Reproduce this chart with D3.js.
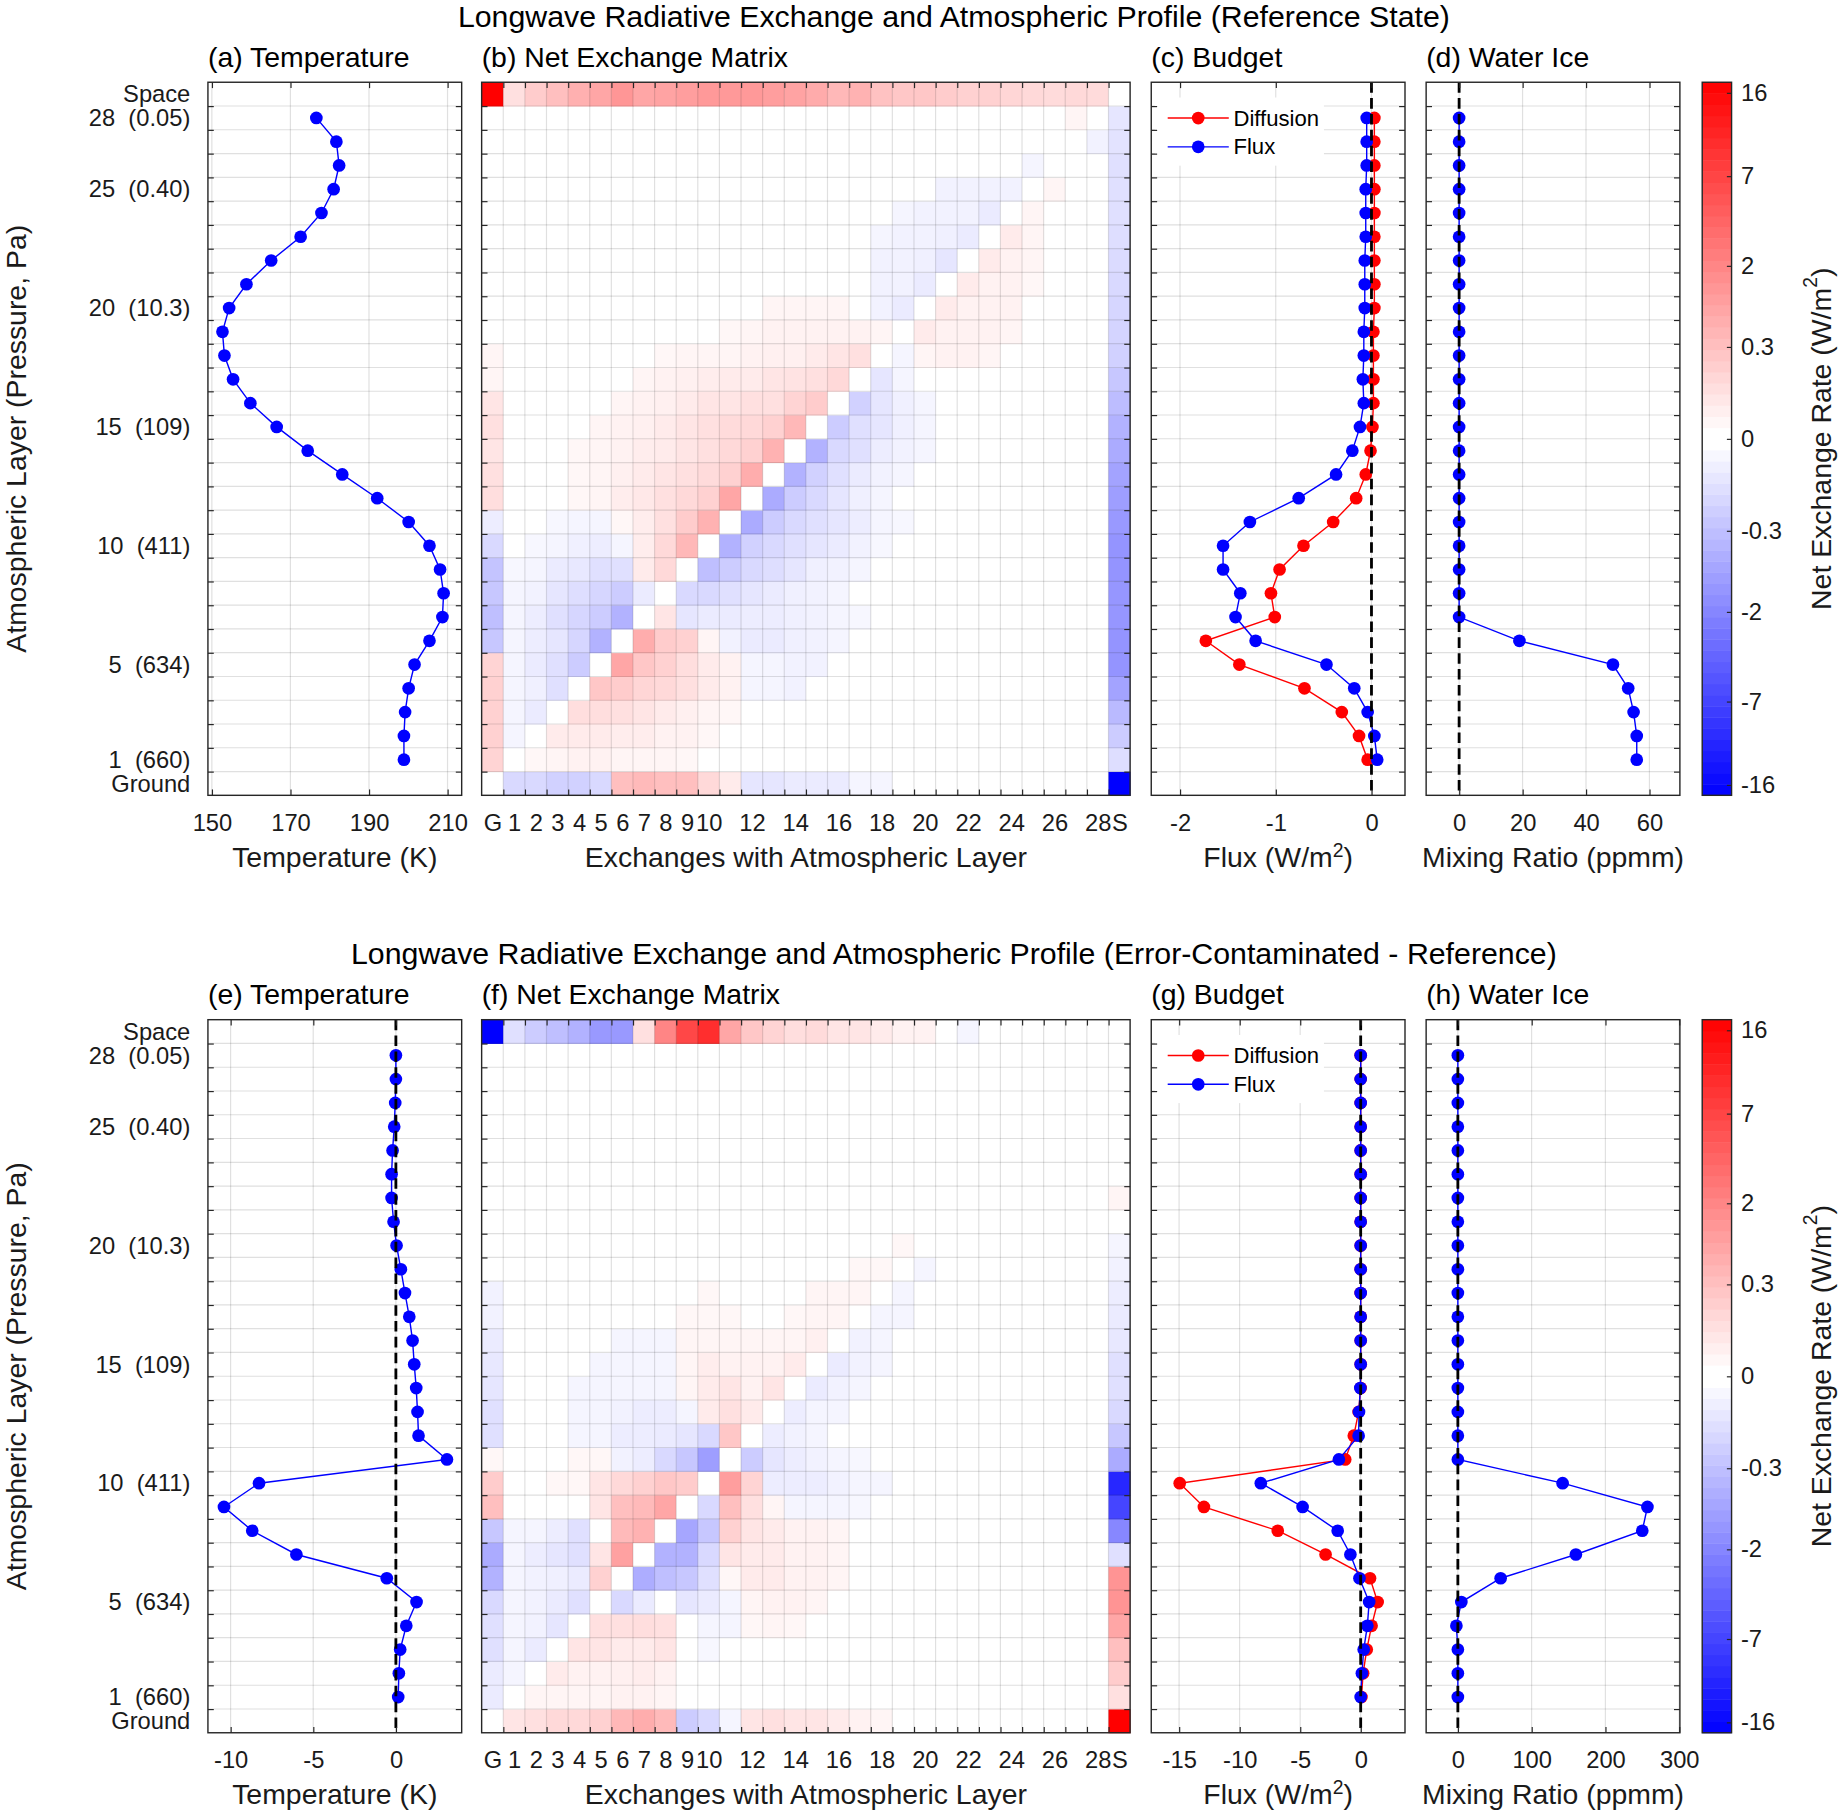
<!doctype html>
<html lang="en">
<head>
	<meta charset="utf-8">
	<title>Longwave Radiative Exchange and Atmospheric Profile</title>
	<style>
html, body {
	margin: 0;
	padding: 0;
	background-color: white;
}
svg {
	display: block;
	font-family: 'Liberation Sans', Arial, Helvetica, sans-serif;
}
.grid line {
	stroke: #262626;
	stroke-opacity: 0.14;
	stroke-width: 1px;
}
.axis line {
	stroke: #262626;
	stroke-width: 1px;
}
.axis text {
	font-size: 20.2px;
	fill: #1a1a1a;
}
.frame {
	fill: none;
	stroke: #262626;
	stroke-width: 1.2px;
}
.series path {
	fill: none;
	stroke-width: 1.2px;
}
.zero {
	stroke: black;
	stroke-width: 2.4px;
	stroke-dasharray: 9 4.5;
}
.title {
	font-size: 24.2px;
	fill: black;
}
.suptitle {
	font-size: 25.8px;
	fill: black;
}
.label {
	font-size: 24.2px;
	fill: #1a1a1a;
}
.legend text {
	font-size: 18.8px;
	fill: black;
}
	</style>
</head>
<body>
	<div id="chart"></div>

	<script src="https://cdnjs.cloudflare.com/ajax/libs/d3/7.8.5/d3.min.js"></script>
	<script>
(function _lwx(d3) {

	'use strict';

	/* DATA */

	// atmospheric layers 1..28 (row 0 = Ground, row 29 = Space)
	var layers = d3.range(1, 29);

	var rowTicks = [29, 28, 25, 20, 15, 10, 5, 1, 0];
	var rowTickLabels = ['Space', '28\u00a0\u00a0(0.05)', '25\u00a0\u00a0(0.40)', '20\u00a0\u00a0(10.3)',
		'15\u00a0\u00a0(109)', '10\u00a0\u00a0(411)', '5\u00a0\u00a0(634)', '1\u00a0\u00a0(660)', 'Ground'];

	var colTicks = [0, 1, 2, 3, 4, 5, 6, 7, 8, 9, 10, 12, 14, 16, 18, 20, 22, 24, 26, 28, 29];
	var colTickLabels = ['G', '1', '2', '3', '4', '5', '6', '7', '8', '9', '10',
		'12', '14', '16', '18', '20', '22', '24', '26', '28', 'S'];

	var cbTicks = [16, 7, 2, 0.3, 0, -0.3, -2, -7, -16];
	var cbTickLabels = ['16', '7', '2', '0.3', '0', '-0.3', '-2', '-7', '-16'];
	var CB_MAX = 17.5;

	// reference state, layers 1..28
	var tempRef = [198.9, 198.9, 199.2, 200.1, 201.6, 205.4, 208.7, 209.0, 208.1, 205.4,
		200.1, 192.1, 183.2, 174.4, 166.5, 159.8, 155.4, 153.2, 152.7, 154.4,
		158.8, 165.1, 172.6, 177.9, 181.0, 182.4, 181.7, 176.6];
	var diffRef = [-0.04, -0.13, -0.31, -0.70, -1.38, -1.73, -1.01, -1.05, -0.96, -0.71,
		-0.40, -0.16, -0.06, -0.01, 0.01, 0.02, 0.02, 0.02, 0.02, 0.03,
		0.03, 0.03, 0.03, 0.03, 0.03, 0.03, 0.03, 0.03];
	var fluxRef = [0.06, 0.03, -0.04, -0.18, -0.47, -1.21, -1.42, -1.37, -1.55, -1.55,
		-1.27, -0.76, -0.37, -0.20, -0.12, -0.08, -0.09, -0.08, -0.08, -0.07,
		-0.07, -0.07, -0.06, -0.06, -0.06, -0.05, -0.05, -0.05];
	var iceRef = [56, 56, 55, 53.3, 48.5, 19, 0, 0, 0, 0,
		0, 0, 0, 0, 0, 0, 0, 0, 0, 0,
		0, 0, 0, 0, 0, 0, 0, 0];

	// error-contaminated minus reference, layers 1..28
	var tempErr = [0.14, 0.18, 0.26, 0.63, 1.25, -0.55, -6.02, -8.69, -10.4, -8.28,
		3.09, 1.37, 1.31, 1.23, 1.11, 1.01, 0.81, 0.55, 0.30, 0.04,
		-0.14, -0.26, -0.26, -0.20, -0.10, -0.04, 0, 0];
	var diffErr = [0.06, 0.2, 0.5, 0.9, 1.4, 0.77, -2.9, -6.85, -12.95, -14.95,
		-1.28, -0.57, -0.17, 0, 0, 0, 0, 0, 0, 0,
		0, 0, 0, 0, 0, 0, 0, 0];
	var fluxErr = [0, 0.1, 0.25, 0.55, 0.7, -0.1, -0.85, -1.9, -4.8, -8.25,
		-1.8, -0.17, -0.14, -0.03, 0, 0, 0, 0, 0, 0,
		0, 0, 0, 0, 0, 0, 0, 0];
	var iceErr = [0, 0, 0, -2, 4.7, 58, 160, 250, 257, 142,
		0, 0, 0, 0, 0, 0, 0, 0, 0, 0,
		0, 0, 0, 0, 0, 0, 0, 0];

	// net exchange matrices (W/m2): rows Ground,1..28,Space ; columns G, 1..28, S
	var netRef = [
		[0, -.059, -.059, -.102, -.102, -.059, .273, .344, .273, .273, .059, .009, -.0175, -.0175, -.009, -.009, -.009, -.0011, -.0011, 0, 0, 0, 0, 0, 0, 0, 0, 0, 0, -17.5],
		[.086, 0, .0005, .0011, .0022, .0022, .0011, .0011, .0011, .0005, 0, 0, 0, 0, 0, 0, 0, 0, 0, 0, 0, 0, 0, 0, 0, 0, 0, 0, 0, -.038],
		[.102, -.0011, 0, .009, .009, .009, .006, .006, .0022, .0022, .0005, 0, 0, 0, 0, 0, 0, 0, 0, 0, 0, 0, 0, 0, 0, 0, 0, 0, 0, -.14],
		[.102, -.0011, -.009, 0, .038, .038, .03, .0175, .009, .0038, .0011, .0005, 0, 0, 0, 0, 0, 0, 0, 0, 0, 0, 0, 0, 0, 0, 0, 0, 0, -.344],
		[.102, -.0011, -.0038, -.03, 0, .186, .14, .072, .059, .03, .009, .0022, -.0011, -.0011, -.0022, 0, 0, 0, 0, 0, 0, 0, 0, 0, 0, 0, 0, 0, 0, -.816],
		[.086, -.0011, -.009, -.03, -.14, 0, .75, .186, .102, .038, .009, .0022, -.0011, -.0011, -.0022, -.0022, 0, 0, 0, 0, 0, 0, 0, 0, 0, 0, 0, 0, 0, -1.3],
		[-.186, -.0011, -.006, -.0175, -.072, -.473, 0, .573, .14, .102, .0011, -.0022, -.009, -.009, -.0038, -.0022, -.0011, 0, 0, 0, 0, 0, 0, 0, 0, 0, 0, 0, 0, -1.3],
		[-.273, -.0011, -.006, -.03, -.072, -.14, -.473, 0, .0175, -.0175, -.009, -.009, -.006, -.006, -.0038, -.0022, -.0011, -.0005, 0, 0, 0, 0, 0, 0, 0, 0, 0, 0, 0, -1.21],
		[-.186, -.0011, -.0022, -.0175, -.038, -.072, -.14, -.009, 0, -.059, -.059, -.03, -.0175, -.009, -.0038, -.0022, -.0011, 0, 0, 0, 0, 0, 0, 0, 0, 0, 0, 0, 0, -1.21],
		[-.213, -.0005, -.0011, -.009, -.0128, -.03, -.03, .009, .059, 0, -.273, -.14, -.059, -.038, -.0175, -.0038, -.0022, -.0011, 0, 0, 0, 0, 0, 0, 0, 0, 0, 0, 0, -1.3],
		[-.059, 0, -.0005, -.0011, -.0038, -.006, -.0011, .006, .059, .384, 0, -.473, -.102, -.059, -.03, -.0175, -.009, -.0022, -.0005, 0, 0, 0, 0, 0, 0, 0, 0, 0, 0, -1.3],
		[-.006, 0, 0, -.0005, -.0011, -.0011, .0005, .006, .03, .14, .473, 0, -.629, -.14, -.059, -.03, -.0175, -.006, -.0011, -.0005, 0, 0, 0, 0, 0, 0, 0, 0, 0, -1.12],
		[.038, 0, 0, 0, .0005, .0011, .006, .0128, .03, .059, .102, .75, 0, -.629, -.14, -.059, -.0175, -.0038, -.0011, 0, 0, 0, 0, 0, 0, 0, 0, 0, 0, -.96],
		[.03, 0, 0, 0, .0005, .0011, .0038, .009, .0175, .03, .048, .102, .573, 0, -.473, -.102, -.03, -.009, -.0022, -.0011, 0, 0, 0, 0, 0, 0, 0, 0, 0, -.816],
		[.0175, 0, 0, 0, .0005, .0011, .0022, .006, .009, .0175, .03, .059, .102, .473, 0, -.473, -.059, -.03, -.006, -.0022, -.0011, 0, 0, 0, 0, 0, 0, 0, 0, -.629],
		[.03, 0, 0, 0, 0, .0011, .0022, .0038, .009, .0175, .03, .048, .059, .102, .384, 0, -.14, -.03, -.0175, -.0038, -.0011, 0, 0, 0, 0, 0, 0, 0, 0, -.473],
		[.0175, 0, 0, 0, 0, 0, .0011, .0022, .0038, .009, .0175, .0175, .03, .03, .086, .14, 0, -.102, -.0175, -.0038, -.0011, 0, 0, 0, 0, 0, 0, 0, 0, -.308],
		[.0011, 0, 0, 0, 0, 0, 0, .0011, .0022, .0038, .006, .009, .009, .0175, .023, .03, .059, 0, -.0175, -.0011, 0, 0, 0, 0, 0, 0, 0, 0, 0, -.186],
		[.0011, 0, 0, 0, 0, 0, 0, 0, .0005, .0011, .0011, .0011, .0022, .0038, .0038, .009, .0175, .03, 0, -.0011, .0011, .0022, .0022, .0011, 0, 0, 0, 0, 0, -.102],
		[0, 0, 0, 0, 0, 0, 0, 0, 0, 0, 0, .0005, .0011, .0022, .0022, .0022, .0022, .0022, .0011, 0, .009, .0022, .0022, .0022, .0011, 0, 0, 0, 0, -.086],
		[0, 0, 0, 0, 0, 0, 0, 0, 0, 0, 0, 0, 0, .0011, .0011, .0011, .0011, 0, -.0022, -.009, 0, .009, .0022, .0022, .0022, 0, 0, 0, 0, -.072],
		[0, 0, 0, 0, 0, 0, 0, 0, 0, 0, 0, 0, 0, 0, 0, 0, 0, 0, -.0022, -.0022, -.009, 0, .009, .0022, .0022, .0005, 0, 0, 0, -.059],
		[0, 0, 0, 0, 0, 0, 0, 0, 0, 0, 0, 0, 0, 0, 0, 0, 0, 0, -.0022, -.0022, -.0038, -.0175, 0, .009, .0022, .0011, 0, 0, 0, -.048],
		[0, 0, 0, 0, 0, 0, 0, 0, 0, 0, 0, 0, 0, 0, 0, 0, 0, 0, -.0011, -.0022, -.0022, -.0038, -.009, 0, .009, .0011, 0, 0, 0, -.038],
		[0, 0, 0, 0, 0, 0, 0, 0, 0, 0, 0, 0, 0, 0, 0, 0, 0, 0, 0, -.0011, -.0022, -.0022, -.0022, -.009, 0, .0011, 0, 0, 0, -.03],
		[0, 0, 0, 0, 0, 0, 0, 0, 0, 0, 0, 0, 0, 0, 0, 0, 0, 0, 0, 0, 0, -.0022, -.0022, -.0022, -.0022, 0, .0011, 0, 0, -.03],
		[0, 0, 0, 0, 0, 0, 0, 0, 0, 0, 0, 0, 0, 0, 0, 0, 0, 0, 0, 0, 0, 0, 0, 0, 0, -.0011, 0, 0, 0, -.03],
		[0, 0, 0, 0, 0, 0, 0, 0, 0, 0, 0, 0, 0, 0, 0, 0, 0, 0, 0, 0, 0, 0, 0, 0, 0, 0, 0, 0, -.0022, -.023],
		[0, 0, 0, 0, 0, 0, 0, 0, 0, 0, 0, 0, 0, 0, 0, 0, 0, 0, 0, 0, 0, 0, 0, 0, 0, 0, 0, .0011, 0, -.0175],
		[17.5, .03, .14, .273, .521, .75, 1.21, .75, .816, .96, 1.12, 1.12, 1.12, .96, .816, .629, .384, .473, .242, .186, .186, .14, .102, .102, .072, .059, .048, .059, .048, 0]
	];

	var netErr = [
		[0, .0175, .03, .059, .059, .102, .384, .573, .344, -.14, -.059, -.0011, .0175, .03, .0175, .0175, .009, .0022, .0011, 0, 0, 0, 0, 0, 0, 0, 0, 0, 0, 17.5],
		[-.009, 0, .0011, .0011, .0011, .0011, .0022, .0022, .0011, 0, 0, 0, 0, 0, 0, 0, 0, 0, 0, 0, 0, 0, 0, 0, 0, 0, 0, 0, 0, .03],
		[-.009, -.0011, 0, .009, .0022, .0022, .0038, .006, .0022, 0, 0, 0, 0, 0, 0, 0, 0, 0, 0, 0, 0, 0, 0, 0, 0, 0, 0, 0, 0, .14],
		[-.03, -.0011, -.009, 0, .0175, .0175, .009, .009, .0175, 0, -.0005, 0, 0, 0, 0, 0, 0, 0, 0, 0, 0, 0, 0, 0, 0, 0, 0, 0, 0, .273],
		[-.03, -.0011, -.0022, -.0175, 0, .03, .03, .038, .03, 0, -.0011, -.0011, .0005, .0011, .0005, 0, 0, 0, 0, 0, 0, 0, 0, 0, 0, 0, 0, 0, 0, .75],
		[-.059, -.0011, -.0022, -.009, -.03, 0, -.059, -.009, 0, -.0175, -.009, -.0011, .0011, .0022, .0022, .0011, 0, 0, 0, 0, 0, 0, 0, 0, 0, 0, 0, 0, 0, 1.3],
		[-.473, -.0011, -.0022, -.0038, -.009, .102, 0, -.573, -.273, -.186, -.03, .0005, .009, .009, .0022, .0022, .0011, 0, 0, 0, 0, 0, 0, 0, 0, 0, 0, 0, 0, 1.3],
		[-.629, -.0011, -.006, -.0175, -.03, .0175, .886, 0, -.473, -.473, -.059, .0175, .009, .009, .0022, .0022, .0011, 0, 0, 0, 0, 0, 0, 0, 0, 0, 0, 0, 0, -.03],
		[-.186, -.0011, -.0011, -.006, -.03, 0, .344, .473, 0, -.75, -.186, .102, .0175, .009, .0022, .0022, .0011, 0, 0, 0, 0, 0, 0, 0, 0, 0, 0, 0, 0, -1.82],
		[.273, 0, 0, 0, 0, .0175, .273, .344, .75, 0, -.059, .273, .03, .0011, -.0011, -.0011, -.0011, -.0005, 0, 0, 0, 0, 0, 0, 0, 0, 0, 0, 0, -6.81],
		[.14, 0, 0, .0005, .0005, .0175, .059, .102, .186, .14, 0, .96, .086, -.006, -.006, -.006, -.0022, -.0011, -.0011, 0, 0, 0, 0, 0, 0, 0, 0, 0, 0, -10.7],
		[.0005, 0, 0, 0, .0005, .0005, -.0022, -.006, -.059, -.186, -.96, 0, -.14, -.0175, -.006, -.0022, -.0011, -.0005, 0, 0, 0, 0, 0, 0, 0, 0, 0, 0, 0, -.629],
		[-.03, 0, 0, 0, -.0011, -.0011, -.006, -.006, -.009, -.0175, -.059, .186, 0, -.006, -.0022, -.0011, 0, 0, 0, 0, 0, 0, 0, 0, 0, 0, 0, 0, 0, -.186],
		[-.03, 0, 0, 0, -.0011, -.0011, -.0022, -.006, -.006, -.0011, .009, .03, .009, 0, -.006, -.0011, -.0011, 0, 0, 0, 0, 0, 0, 0, 0, 0, 0, 0, 0, -.059],
		[-.0175, 0, 0, 0, -.0011, -.0011, -.0011, -.0011, -.0011, .0011, .009, .0175, .0022, .0175, 0, -.009, -.0022, -.0011, 0, 0, 0, 0, 0, 0, 0, 0, 0, 0, 0, -.03],
		[-.0128, 0, 0, 0, 0, -.0011, -.0011, -.0011, -.0011, .0011, .006, .0022, .0022, .0022, .009, 0, -.009, -.0022, -.0011, 0, 0, 0, 0, 0, 0, 0, 0, 0, 0, -.03],
		[-.009, 0, 0, 0, 0, 0, -.0011, -.0011, -.0011, .0011, .0011, .0011, .0011, .0011, .0011, .0038, 0, -.0022, -.0011, 0, 0, 0, 0, 0, 0, 0, 0, 0, 0, -.0128],
		[-.0022, 0, 0, 0, 0, 0, 0, 0, 0, .0005, .0005, .0005, 0, 0, .0005, .0011, .0011, 0, -.0011, -.0011, 0, 0, 0, 0, 0, 0, 0, 0, 0, -.009],
		[-.0022, 0, 0, 0, 0, 0, 0, 0, 0, 0, .0005, 0, 0, 0, 0, .0011, .0011, .0011, 0, -.0011, 0, 0, 0, 0, 0, 0, 0, 0, 0, -.006],
		[0, 0, 0, 0, 0, 0, 0, 0, 0, 0, 0, 0, 0, 0, 0, 0, 0, .0005, .0005, 0, -.0011, 0, 0, 0, 0, 0, 0, 0, 0, -.0022],
		[0, 0, 0, 0, 0, 0, 0, 0, 0, 0, 0, 0, 0, 0, 0, 0, 0, 0, 0, .0005, 0, 0, 0, 0, 0, 0, 0, 0, 0, -.0011],
		[0, 0, 0, 0, 0, 0, 0, 0, 0, 0, 0, 0, 0, 0, 0, 0, 0, 0, 0, 0, 0, 0, 0, 0, 0, 0, 0, 0, 0, 0],
		[0, 0, 0, 0, 0, 0, 0, 0, 0, 0, 0, 0, 0, 0, 0, 0, 0, 0, 0, 0, 0, 0, 0, 0, 0, 0, 0, 0, 0, .0011],
		[0, 0, 0, 0, 0, 0, 0, 0, 0, 0, 0, 0, 0, 0, 0, 0, 0, 0, 0, 0, 0, 0, 0, 0, 0, 0, 0, 0, 0, 0],
		[0, 0, 0, 0, 0, 0, 0, 0, 0, 0, 0, 0, 0, 0, 0, 0, 0, 0, 0, 0, 0, 0, 0, 0, 0, 0, 0, 0, 0, 0],
		[0, 0, 0, 0, 0, 0, 0, 0, 0, 0, 0, 0, 0, 0, 0, 0, 0, 0, 0, 0, 0, 0, 0, 0, 0, 0, 0, 0, 0, 0],
		[0, 0, 0, 0, 0, 0, 0, 0, 0, 0, 0, 0, 0, 0, 0, 0, 0, 0, 0, 0, 0, 0, 0, 0, 0, 0, 0, 0, 0, 0],
		[0, 0, 0, 0, 0, 0, 0, 0, 0, 0, 0, 0, 0, 0, 0, 0, 0, 0, 0, 0, 0, 0, 0, 0, 0, 0, 0, 0, 0, 0],
		[0, 0, 0, 0, 0, 0, 0, 0, 0, 0, 0, 0, 0, 0, 0, 0, 0, 0, 0, 0, 0, 0, 0, 0, 0, 0, 0, 0, 0, 0],
		[-17.5, -.03, -.14, -.273, -.473, -1.12, -1.12, .03, 1.94, 6.53, 9.65, .75, .186, .086, .038, .048, .0175, .0175, .009, .0022, .0022, 0, -.0011, 0, 0, 0, 0, 0, 0, 0]
	];


	/* LAYOUT */

	var ROWS = [{ top: 70, bottom: 677 }, { top: 868, bottom: 1475 }];
	var COLS = {
		a: [177, 393],
		b: [410, 962],
		c: [980, 1196],
		d: [1214, 1430],
		bar: [1449, 1474]
	};
	var BOUNDS = d3.range(0.5, 29, 1);
	var TICK = 5;
	var DOT = 5.4;

	var states = [
		{
			title: 'Longwave Radiative Exchange and Atmospheric Profile (Reference State)',
			letters: ['a', 'b', 'c', 'd'],
			temp: { values: tempRef, domain: [149, 213.6], ticks: [150, 170, 190, 210], zero: false },
			matrix: netRef,
			budget: { diffusion: diffRef, flux: fluxRef, domain: [-2.3, 0.35], ticks: [-2, -1, 0] },
			ice: { values: iceRef, domain: [-10.4, 69.6], ticks: [0, 20, 40, 60] }
		},
		{
			title: 'Longwave Radiative Exchange and Atmospheric Profile (Error-Contaminated - Reference)',
			letters: ['e', 'f', 'g', 'h'],
			temp: { values: tempErr, domain: [-11.37, 3.98], ticks: [-10, -5, 0], zero: true },
			matrix: netErr,
			budget: { diffusion: diffErr, flux: fluxErr, domain: [-17.3, 3.66], ticks: [-15, -10, -5, 0] },
			ice: { values: iceErr, domain: [-43, 301], ticks: [0, 100, 200, 300] }
		}
	];


	/* UTILS */

	var layerY = function (top, bottom) {
		return d3.scaleLinear().domain([-0.5, 29.5]).range([bottom, top]);
	};

	var color = d3.scaleDivergingPow()
		.exponent(1 / 3)
		.domain([-CB_MAX, 0, CB_MAX])
		.interpolator(d3.piecewise(d3.interpolateRgb, ['#0000ff', '#ffffff', '#ff0000']))
		.clamp(true);

	var fmt = function (d) {
		return String(d);
	};

	var axisClean = function (a) {
		a.attr('font-size', null).attr('font-family', null);
		a.select('.domain').remove();
	};

	var addText = function (g, cls, x, y, parts, anchor, rotate) {
		var t = g.append('text')
			.attr('class', cls)
			.attr('text-anchor', anchor || 'start');
		if (rotate) {
			t.attr('transform', 'translate(' + x + ',' + y + ') rotate(-90)')
				.attr('dominant-baseline', 'central');
		} else {
			t.attr('x', x).attr('y', y);
		}
		parts.forEach(function (p) {
			var s = t.append('tspan').text(p.t);
			if (p.sup) {
				s.attr('baseline-shift', 'super').attr('font-size', '68%');
			}
		});
		return t;
	};

	var drawFrame = function (g, left, right, top, bottom) {
		g.append('rect')
			.attr('class', 'frame')
			.attr('x', left)
			.attr('y', top)
			.attr('width', right - left)
			.attr('height', bottom - top);
	};

	var drawRowTicks = function (g, y, left, right) {
		g.append('g').attr('class', 'axis')
			.attr('transform', 'translate(' + left + ',0)')
			.call(d3.axisLeft(y).tickValues(BOUNDS).tickSize(-TICK).tickFormat(''))
			.call(axisClean);
		g.append('g').attr('class', 'axis')
			.attr('transform', 'translate(' + right + ',0)')
			.call(d3.axisRight(y).tickValues(BOUNDS).tickSize(-TICK).tickFormat(''))
			.call(axisClean);
	};

	var drawRowLabels = function (g, y, left) {
		g.append('g').attr('class', 'axis')
			.attr('transform', 'translate(' + left + ',0)')
			.call(d3.axisLeft(y).tickValues(rowTicks).tickSize(0).tickPadding(15)
				.tickFormat(function (d, i) { return rowTickLabels[i]; }))
			.call(axisClean);
	};


	/* RENDER */

	var svg = d3.select('#chart').append('svg')
		.attr('width', 1842)
		.attr('height', 1819)
		.attr('viewBox', '0 0 1568 1548.4');

	var drawProfile = function (g, p) {
		var x = d3.scaleLinear().domain(p.domain).range([p.left, p.right]);
		var y = layerY(p.top, p.bottom);

		var grid = g.append('g').attr('class', 'grid');
		grid.selectAll('line.h').data(BOUNDS).enter()
			.append('line').attr('class', 'h')
			.attr('x1', p.left).attr('x2', p.right)
			.attr('y1', y).attr('y2', y);
		grid.selectAll('line.v').data(p.ticks).enter()
			.append('line').attr('class', 'v')
			.attr('x1', x).attr('x2', x)
			.attr('y1', p.top).attr('y2', p.bottom);

		if (p.legend) {
			var lg = g.append('g').attr('class', 'legend');
			lg.append('rect')
				.attr('x', p.left + 3).attr('y', p.top + 13)
				.attr('width', 144).attr('height', 58)
				.attr('fill', 'white');
			p.series.forEach(function (s, i) {
				var ly = p.top + 30.5 + i * 24.5;
				lg.append('line')
					.attr('x1', p.left + 14).attr('x2', p.left + 66)
					.attr('y1', ly).attr('y2', ly)
					.attr('stroke', s.color).attr('stroke-width', 1.2);
				lg.append('circle')
					.attr('cx', p.left + 40).attr('cy', ly).attr('r', DOT)
					.attr('fill', s.color);
				lg.append('text')
					.attr('x', p.left + 70).attr('y', ly)
					.attr('dominant-baseline', 'central')
					.text(s.name);
			});
		}

		p.series.forEach(function (s) {
			var pts = layers.map(function (l, i) {
				return { layer: l, value: s.values[i] };
			});
			var sg = g.append('g').attr('class', 'series');
			sg.append('path')
				.datum(pts)
				.attr('stroke', s.color)
				.attr('d', d3.line()
					.x(function (d) { return x(d.value); })
					.y(function (d) { return y(d.layer); }));
			sg.selectAll('circle').data(pts).enter()
				.append('circle')
				.attr('cx', function (d) { return x(d.value); })
				.attr('cy', function (d) { return y(d.layer); })
				.attr('r', DOT)
				.attr('fill', s.color);
		});

		if (p.zero) {
			g.append('line')
				.attr('class', 'zero')
				.attr('x1', x(0)).attr('x2', x(0))
				.attr('y1', p.top).attr('y2', p.bottom);
		}

		g.append('g').attr('class', 'axis')
			.attr('transform', 'translate(0,' + p.bottom + ')')
			.call(d3.axisBottom(x).tickValues(p.ticks).tickSize(-TICK).tickPadding(16).tickFormat(fmt))
			.call(axisClean);
		g.append('g').attr('class', 'axis')
			.attr('transform', 'translate(0,' + p.top + ')')
			.call(d3.axisTop(x).tickValues(p.ticks).tickSize(-TICK).tickFormat(''))
			.call(axisClean);
		drawRowTicks(g, y, p.left, p.right);
		if (p.rowLabels) {
			drawRowLabels(g, y, p.left);
		}
		drawFrame(g, p.left, p.right, p.top, p.bottom);
	};

	var drawMatrix = function (g, p) {
		var x = d3.scaleLinear().domain([-0.5, 29.5]).range([p.left, p.right]);
		var y = layerY(p.top, p.bottom);
		var cw = x(0.5) - x(-0.5);
		var ch = y(-0.5) - y(0.5);
		var cells = [];

		p.data.forEach(function (row, r) {
			row.forEach(function (v, c) {
				cells.push({ row: r, col: c, value: v });
			});
		});

		g.append('g').selectAll('rect').data(cells).enter()
			.append('rect')
			.attr('x', function (d) { return x(d.col - 0.5); })
			.attr('y', function (d) { return y(d.row + 0.5); })
			.attr('width', cw + 0.4)
			.attr('height', ch + 0.4)
			.attr('fill', function (d) { return color(d.value); });

		var grid = g.append('g').attr('class', 'grid');
		grid.selectAll('line.h').data(BOUNDS).enter()
			.append('line').attr('class', 'h')
			.attr('x1', p.left).attr('x2', p.right)
			.attr('y1', y).attr('y2', y);
		grid.selectAll('line.v').data(BOUNDS).enter()
			.append('line').attr('class', 'v')
			.attr('x1', x).attr('x2', x)
			.attr('y1', p.top).attr('y2', p.bottom);

		g.append('g').attr('class', 'axis')
			.attr('transform', 'translate(0,' + p.bottom + ')')
			.call(d3.axisBottom(x).tickValues(BOUNDS).tickSize(-TICK).tickFormat(''))
			.call(axisClean);
		g.append('g').attr('class', 'axis')
			.attr('transform', 'translate(0,' + p.bottom + ')')
			.call(d3.axisBottom(x).tickValues(colTicks).tickSize(0).tickPadding(16)
				.tickFormat(function (d, i) { return colTickLabels[i]; }))
			.call(axisClean);
		g.append('g').attr('class', 'axis')
			.attr('transform', 'translate(0,' + p.top + ')')
			.call(d3.axisTop(x).tickValues(BOUNDS).tickSize(-TICK).tickFormat(''))
			.call(axisClean);
		drawRowTicks(g, y, p.left, p.right);
		drawFrame(g, p.left, p.right, p.top, p.bottom);
	};

	var drawColorbar = function (g, p) {
		var y = d3.scalePow().exponent(1 / 3).domain([-CB_MAX, CB_MAX]).range([p.bottom, p.top]);
		var n = 64;
		var h = (p.bottom - p.top) / n;
		var ramp = color.interpolator();

		g.append('g').selectAll('rect').data(d3.range(n)).enter()
			.append('rect')
			.attr('x', p.left)
			.attr('width', p.right - p.left)
			.attr('y', function (i) { return p.bottom - (i + 1) * h; })
			.attr('height', h + 0.4)
			.attr('fill', function (i) {
				var u = (i + 0.5) / (n / 2) - 1;
				var s = Math.max(0, Math.abs(u) - 1 / n) / (1 - 1 / n);
				return ramp((Math.sign(u) * s + 1) / 2);
			});

		g.append('g').attr('class', 'axis')
			.attr('transform', 'translate(' + p.right + ',0)')
			.call(d3.axisRight(y).tickValues(cbTicks).tickSize(-4).tickPadding(8)
				.tickFormat(function (d, i) { return cbTickLabels[i]; }))
			.call(axisClean);
		drawFrame(g, p.left, p.right, p.top, p.bottom);

		addText(g, 'label', 1550, (p.top + p.bottom) / 2,
			[{ t: 'Net Exchange Rate (W/m' }, { t: '2', sup: true }, { t: ')' }], 'middle', true);
	};

	states.forEach(function (st, k) {
		var row = ROWS[k];
		var g = svg.append('g').attr('class', 'state');
		var mid = (row.top + row.bottom) / 2;
		var labelY = row.bottom + 61;

		addText(g, 'suptitle', 812, row.top - 47, [{ t: st.title }], 'middle');

		drawProfile(g, {
			left: COLS.a[0], right: COLS.a[1], top: row.top, bottom: row.bottom,
			domain: st.temp.domain, ticks: st.temp.ticks, zero: st.temp.zero,
			series: [{ values: st.temp.values, color: '#0000ff' }],
			rowLabels: true
		});
		drawMatrix(g, {
			left: COLS.b[0], right: COLS.b[1], top: row.top, bottom: row.bottom,
			data: st.matrix
		});
		drawProfile(g, {
			left: COLS.c[0], right: COLS.c[1], top: row.top, bottom: row.bottom,
			domain: st.budget.domain, ticks: st.budget.ticks, zero: true,
			series: [
				{ name: 'Diffusion', values: st.budget.diffusion, color: '#ff0000' },
				{ name: 'Flux', values: st.budget.flux, color: '#0000ff' }
			],
			legend: true
		});
		drawProfile(g, {
			left: COLS.d[0], right: COLS.d[1], top: row.top, bottom: row.bottom,
			domain: st.ice.domain, ticks: st.ice.ticks, zero: true,
			series: [{ values: st.ice.values, color: '#0000ff' }]
		});
		drawColorbar(g, { left: COLS.bar[0], right: COLS.bar[1], top: row.top, bottom: row.bottom });

		// panel titles
		addText(g, 'title', COLS.a[0], row.top - 13, [{ t: '(' + st.letters[0] + ') Temperature' }]);
		addText(g, 'title', COLS.b[0], row.top - 13, [{ t: '(' + st.letters[1] + ') Net Exchange Matrix' }]);
		addText(g, 'title', COLS.c[0], row.top - 13, [{ t: '(' + st.letters[2] + ') Budget' }]);
		addText(g, 'title', COLS.d[0], row.top - 13, [{ t: '(' + st.letters[3] + ') Water Ice' }]);

		// axis labels
		addText(g, 'label', (COLS.a[0] + COLS.a[1]) / 2, labelY, [{ t: 'Temperature (K)' }], 'middle');
		addText(g, 'label', (COLS.b[0] + COLS.b[1]) / 2, labelY, [{ t: 'Exchanges with Atmospheric Layer' }], 'middle');
		addText(g, 'label', (COLS.c[0] + COLS.c[1]) / 2, labelY,
			[{ t: 'Flux (W/m' }, { t: '2', sup: true }, { t: ')' }], 'middle');
		addText(g, 'label', (COLS.d[0] + COLS.d[1]) / 2, labelY, [{ t: 'Mixing Ratio (ppmm)' }], 'middle');
		addText(g, 'label', 14, mid, [{ t: 'Atmospheric Layer (Pressure, Pa)' }], 'middle', true);
	});

})(window.d3);
	</script>
</body>
</html>
